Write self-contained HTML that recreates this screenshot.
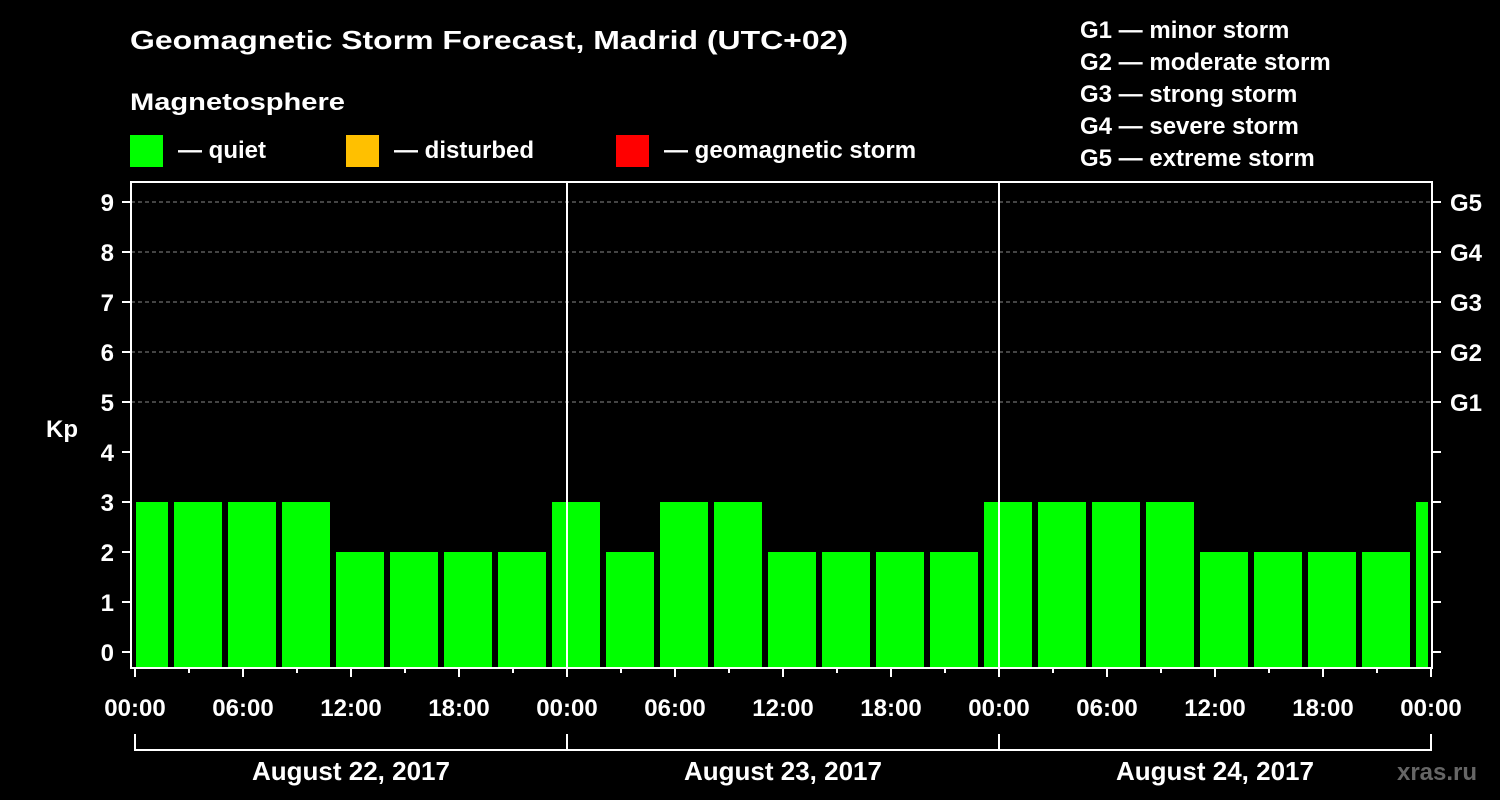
<!DOCTYPE html>
<html><head><meta charset="utf-8"><style>
html,body{margin:0;padding:0;background:#000;}
svg{display:block;font-family:"Liberation Sans",Arial,sans-serif;font-weight:bold;}
</style></head><body>
<svg id="chart" width="1500" height="800" viewBox="0 0 1500 800">
<rect width="1500" height="800" fill="#000"/>
<text x="130" y="49" fill="#fff" font-size="26" textLength="718" lengthAdjust="spacingAndGlyphs">Geomagnetic Storm Forecast, Madrid (UTC+02)</text>
<text x="130" y="110" fill="#fff" font-size="24" textLength="215" lengthAdjust="spacingAndGlyphs">Magnetosphere</text>
<g><rect x="130" y="135" width="33" height="32" fill="#00ff00"/><text x="178" y="158" fill="#fff" font-size="24">— quiet</text></g>
<g><rect x="346" y="135" width="33" height="32" fill="#ffc000"/><text x="394" y="158" fill="#fff" font-size="24">— disturbed</text></g>
<g><rect x="616" y="135" width="33" height="32" fill="#ff0000"/><text x="664" y="158" fill="#fff" font-size="24">— geomagnetic storm</text></g>
<g fill="#fff" font-size="24">
<text x="1080" y="38">G1 — minor storm</text>
<text x="1080" y="70">G2 — moderate storm</text>
<text x="1080" y="102">G3 — strong storm</text>
<text x="1080" y="134">G4 — severe storm</text>
<text x="1080" y="166">G5 — extreme storm</text>
</g>
<g id="grid"></g>
<g id="bars"></g>
<g id="axes"></g>
<text x="62" y="437" fill="#fff" font-size="24" text-anchor="middle">Kp</text>
<text x="1437" y="780" fill="#666" font-size="24" text-anchor="middle">xras.ru</text>
</svg>
<script>
const kpValues=[3,3,3,3,2,2,2,2,3,2,3,3,2,2,2,2,3,3,3,3,2,2,2,2,3];
const yTicks=[0,1,2,3,4,5,6,7,8,9];
const gLabels=["G1","G2","G3","G4","G5"];
const gLevels=[5,6,7,8,9];
const xTickLabels=["00:00","06:00","12:00","18:00","00:00","06:00","12:00","18:00","00:00","06:00","12:00","18:00","00:00"];
const dayLabels=["August 22, 2017","August 23, 2017","August 24, 2017"];

const NS="http://www.w3.org/2000/svg";
const L=131,R=1432,T=182,B=668;
function y(k){return 652-50*k;}
function x(h){return 135+18*h;}
function mk(tag,attrs,parent,text){const e=document.createElementNS(NS,tag);for(const k in attrs)e.setAttribute(k,attrs[k]);if(text!==undefined)e.textContent=text;parent.appendChild(e);return e;}
const grid=document.getElementById('grid'),bars=document.getElementById('bars'),axes=document.getElementById('axes');
gLevels.forEach((g,i)=>{
 const l=mk('line',{x1:L,x2:R,y1:y(g),y2:y(g),stroke:'#888','stroke-dasharray':'4,3','stroke-width':1},grid);
 
 
 const t=mk('text',{x:1450,y:y(g)+9,fill:'#fff','font-size':24},axes,gLabels[i]);
 
 
});
kpValues.forEach((v,i)=>{
 let x0=x(3*i)-15,x1=x0+48;
 x0=Math.max(x0,136);x1=Math.min(x1,1428);
 const c=v>=5?'#ff0000':(v>=4?'#ffc000':'#00ff00');
 const r=mk('rect',{x:x0,y:y(v),width:x1-x0,height:B-y(v),fill:c},bars);
 
 
});
// frame
const f=mk('rect',{x:L,y:T,width:R-L,height:B-T,fill:'none',stroke:'#fff','stroke-width':2},axes);


[1,2].forEach(d=>{
 const l=mk('line',{x1:x(24*d),x2:x(24*d),y1:T,y2:B,stroke:'#fff','stroke-width':2},axes);
 
 
});
yTicks.forEach(k=>{
 mk('line',{x1:122,x2:L,y1:y(k),y2:y(k),stroke:'#fff','stroke-width':2},axes);
 mk('line',{x1:R,x2:1441,y1:y(k),y2:y(k),stroke:'#fff','stroke-width':2},axes);
 const t=mk('text',{x:114,y:y(k)+9,fill:'#fff','font-size':24,'text-anchor':'end'},axes,String(k));
 
 
});
for(let h=0;h<=72;h+=3){
 const long=h%6===0;
 mk('line',{x1:x(h),x2:x(h),y1:B,y2:long?677:673,stroke:'#fff','stroke-width':2},axes);
}
xTickLabels.forEach((s,i)=>{
 const t=mk('text',{x:x(6*i),y:716,fill:'#fff','font-size':24,'text-anchor':'middle'},axes,s);
 
 
});
mk('line',{x1:x(0),x2:x(72),y1:750,y2:750,stroke:'#fff','stroke-width':2},axes);
for(let d=0;d<=3;d++) mk('line',{x1:x(24*d),x2:x(24*d),y1:734,y2:751,stroke:'#fff','stroke-width':2},axes);
dayLabels.forEach((s,i)=>{
 const t=mk('text',{x:x(24*i+12),y:780,fill:'#fff','font-size':26,'text-anchor':'middle'},axes,s);
 
 
});
</script>
</body></html>
